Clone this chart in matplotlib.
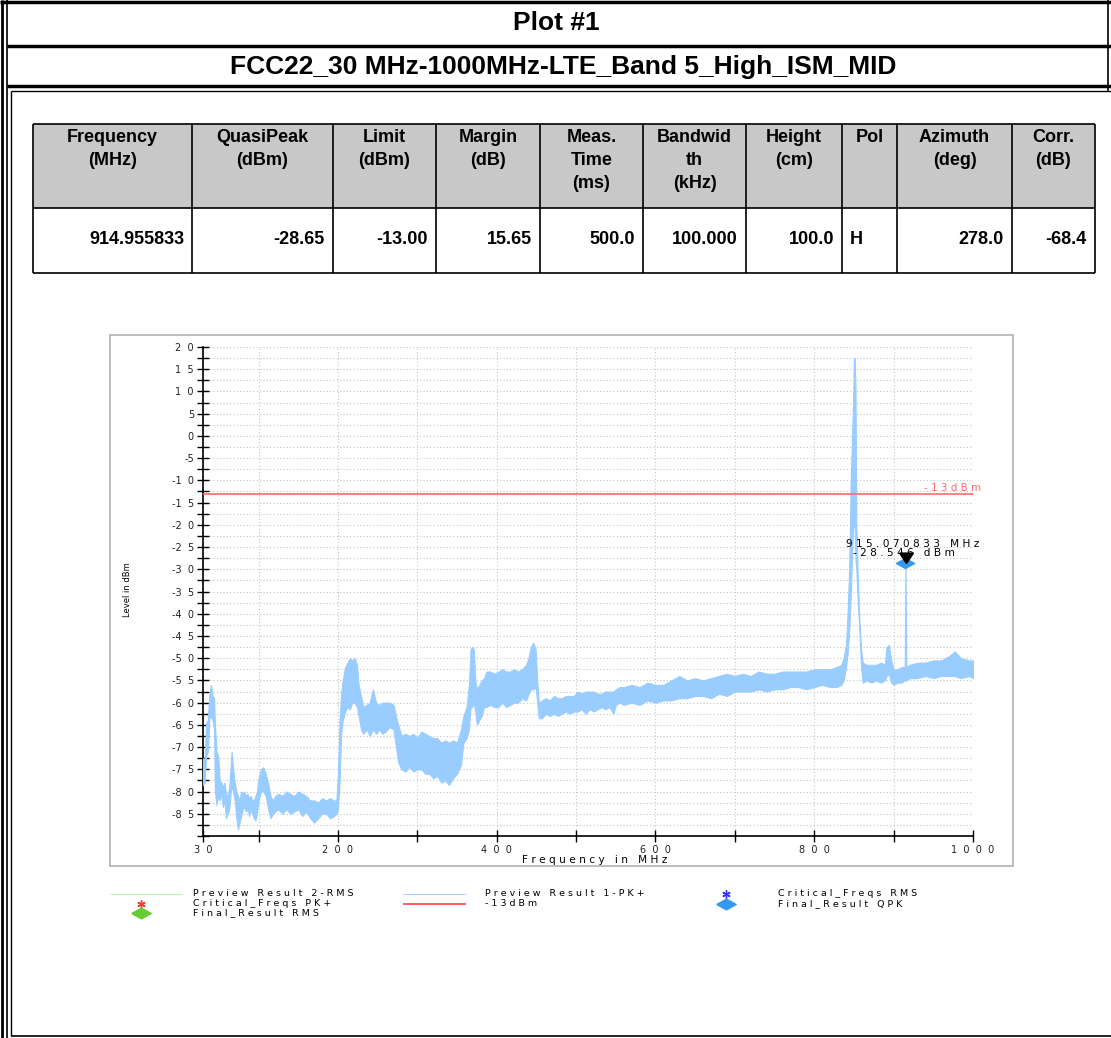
import matplotlib.pyplot as plt
from matplotlib.lines import Line2D
from matplotlib.patches import Rectangle
from matplotlib.ticker import FixedLocator, FuncFormatter, MultipleLocator

# ---- table data ----
headers = ["Frequency\n(MHz)", "QuasiPeak\n(dBm)", "Limit\n(dBm)", "Margin\n(dB)",
           "Meas.\nTime\n(ms)", "Bandwid\nth\n(kHz)", "Height\n(cm)", "Pol",
           "Azimuth\n(deg)", "Corr.\n(dB)"]
values = ["914.955833", "-28.65", "-13.00", "15.65", "500.0", "100.000",
          "100.0", "H", "278.0", "-68.4"]

# ---- trace (low / high edge of the noisy band) ----
freq = [30, 32, 34, 36, 38, 40, 42, 44, 45, 47, 49, 51, 53, 55, 57, 59, 61, 63, 65, 66,
        68, 70, 72, 74, 76, 78, 80, 82, 84, 86, 88, 90, 92, 94, 96, 98, 100, 103, 106, 109,
        112, 115, 118, 121, 125, 130, 135, 140, 145, 150, 155, 160, 165, 170, 175, 180, 185, 190, 195, 198,
        200, 202, 204, 206, 209, 212, 215, 218, 221, 224, 226, 229, 232, 236, 240, 244, 248, 252, 256, 260,
        265, 270, 273, 276, 280, 285, 290, 295, 300, 305, 310, 315, 320, 325, 330, 335, 340, 345, 350, 355,
        358, 362, 365, 367, 369, 371, 373, 375, 378, 381, 384, 387, 392, 397, 402, 407, 412, 417, 422, 427,
        432, 437, 440, 443, 446, 449, 451, 453, 457, 462, 467, 472, 477, 482, 487, 492, 497, 502, 507, 512,
        517, 522, 527, 532, 537, 542, 547, 550, 555, 560, 570, 580, 590, 600, 610, 620, 630, 640, 650, 660,
        670, 680, 690, 700, 710, 720, 730, 740, 750, 760, 770, 780, 790, 800, 810, 820, 828, 834, 837, 840,
        842, 844, 846, 848, 849, 850, 851, 852, 853, 855, 857, 859, 861, 866, 872, 878, 884, 889, 891, 894,
        897, 900, 905, 910, 914, 915, 916, 920, 930, 940, 950, 960, 970, 977, 985, 995, 1000]
level_lo = [-78.5, -78, -72, -71, -63.5, -63, -64, -66, -80, -83, -81, -82, -80.5, -83.5, -82, -86, -85, -84, -80, -79,
            -80, -82, -86, -88.5, -87, -85.5, -84, -83.5, -84.5, -84, -85.5, -84, -85, -86, -86.5, -85, -82, -80, -80, -81,
            -84, -86, -85, -84.5, -84, -85, -84, -85, -84.5, -84, -85.5, -84.5, -86, -87, -86, -85, -85, -86, -85.5, -85,
            -84, -78, -67, -64, -62, -61, -61.5, -60, -60, -61, -63, -66, -67, -66, -67.5, -66, -67, -66, -67, -66.5,
            -65.5, -66, -70, -73.5, -75, -75.5, -74.5, -75.5, -75, -75, -76, -76, -77, -76.5, -78, -77.5, -78.5, -77, -76, -74,
            -69, -68, -66, -61, -61, -60, -62, -65, -64, -63, -61, -61, -60.5, -61, -61, -60, -61, -60.5, -60, -60,
            -59, -59.5, -58, -57, -57, -56.5, -60, -63.5, -63.5, -62.5, -63, -62.5, -63, -62.5, -62, -62.5, -62, -62, -61.5, -62.5,
            -61.5, -62, -61.5, -61, -61.5, -61, -62.5, -60.5, -60, -60.5, -60, -60.5, -59.5, -60, -59.5, -59.5, -59, -59, -58.5, -58.5,
            -59, -58, -58.5, -57.5, -57.5, -57.5, -57, -57.5, -57, -57, -56.5, -56.5, -57, -56.5, -56, -56.5, -56.5, -56, -55, -52,
            -49, -44, -36, -25, -20, -20, -21, -28, -30, -38, -44, -52, -55.5, -55, -55.5, -55, -55.5, -55, -54, -53.5,
            -55.5, -56, -55.5, -55.5, -55, -55, -55, -54.5, -54.5, -54, -54.5, -54, -54, -54, -54.5, -54, -54.5]
level_hi = [-72.5, -73, -64.5, -64, -58, -56, -58.5, -59, -65, -71, -72, -77.5, -78, -79, -78, -80.5, -81, -79, -74, -71,
            -75, -78, -80, -81, -82, -80, -80.5, -80, -81, -80.5, -81.5, -81, -82, -82, -81, -80, -77, -75, -74.5, -76,
            -78, -81, -82, -81, -80.5, -81, -80, -80.5, -81, -80, -80.5, -81, -82, -82, -82.5, -81.5, -82, -81.5, -82, -82,
            -76, -64, -58, -55, -52, -51, -50, -50.5, -50, -51.5, -56, -58.5, -61, -60.5, -60, -57, -60, -60.5, -60, -60,
            -60, -60.5, -63, -65, -67.5, -67, -67.5, -67, -68, -66.5, -67, -67.5, -68, -68, -69, -68.5, -69, -68.5, -69, -66,
            -63, -61, -56, -48, -47.5, -48, -55, -57, -56, -55, -54.5, -53, -53, -53.5, -53, -52.5, -53, -53, -52.5, -53,
            -52.5, -51.5, -50, -47.5, -46.5, -48, -55, -60, -59.5, -59, -59.5, -58.5, -59, -59, -58.5, -58.5, -58.5, -57.5, -58, -57.5,
            -57.5, -57.5, -58, -58, -57.5, -57.5, -57.5, -57, -56.5, -56.5, -56, -56.5, -55.5, -56, -56, -55, -54, -55, -54.5, -55,
            -54.5, -54, -53.5, -54, -53.5, -54, -53, -53.5, -53.5, -53, -53, -53, -53, -52.5, -52.5, -52.5, -52, -51.5, -50, -47,
            -40, -30, -10, 2, 8, 17.5, 17.5, 10, -20, -33, -42, -48, -51, -51.5, -51.5, -51.5, -51, -51.5, -47.5, -47,
            -50.5, -52.5, -52.5, -52, -52, -28.5, -52, -51.5, -51, -51, -50.5, -50.5, -49.5, -48.5, -50, -50.5, -50.5]

limit_freq = [30, 1000]
limit_level = [-13, -13]
qpk_freq = [914.955833]
qpk_level = [-28.65]
mark_freq = 915.070833
mark_level = -28.546

x_major = [30, 200, 400, 600, 800, 1000]
x_minor = [100, 300, 500, 700, 900]
y_major = list(range(-85, 21, 5))

W, H = 1111, 1038
FONT = ['Liberation Sans', 'DejaVu Sans']
TRACE = '#99ccff'

fig = plt.figure(figsize=(W / 100, H / 100), dpi=100)


def fx(x):
    return x / W


def fy(y):
    return 1 - y / H


def line(x0, y0, x1, y1, lw, color='black'):
    fig.add_artist(Line2D([fx(x0), fx(x1)], [fy(y0), fy(y1)], lw=lw, color=color,
                          transform=fig.transFigure, solid_capstyle='butt'))


def spaced(s, gap=" "):
    return gap.join(s)


def tick_text(v, pos):
    s = str(int(round(v)))
    if s.startswith("-"):
        return "-" + spaced(s[1:], "  ")
    return spaced(s, "  ")


# ---- page frame ----
line(2, 0, 2, H, 2)
line(7, 0, 7, H, 1.2)
line(11, 91, 11, 1036, 1)
line(0, 1.5, W, 1.5, 2.5)
line(1108, 0, 1108, 91, 1.2)
line(7, 46, W, 46, 2.5)
line(7, 86, W, 86, 2.5)
line(11, 91, W, 91, 1)
line(11, 1036, W, 1036, 1.2)

fig.text(fx(556), fy(23), "Plot #1", ha='center', va='center', fontsize=19,
         fontweight='bold', family=FONT)
fig.text(fx(563), fy(67), "FCC22_30 MHz-1000MHz-LTE_Band 5_High_ISM_MID", ha='center',
         va='center', fontsize=19, fontweight='bold', family=FONT)

# ---- result table ----
col_edges = [33, 192, 333, 436, 540, 643, 746, 842, 897, 1012, 1095]
t_top, t_mid, t_bot = 124, 208, 273
fig.add_artist(Rectangle((fx(33), fy(t_mid)), fx(1095) - fx(33), fy(t_top) - fy(t_mid),
                         transform=fig.transFigure, facecolor='#c8c8c8', edgecolor='none',
                         zorder=0))
for yy in (t_top, t_mid, t_bot):
    line(33, yy, 1095, yy, 1.2)
for xx in col_edges:
    line(xx, t_top, xx, t_bot, 1.2)
for i in range(len(headers)):
    x0, x1 = col_edges[i], col_edges[i + 1]
    fig.text(fx((x0 + x1) / 2), fy(129), headers[i], ha='center', va='top', fontsize=13,
             fontweight='bold', family=FONT, linespacing=1.45)
    if values[i] == "H":
        fig.text(fx(x0 + 8), fy(240), values[i], ha='left', va='center', fontsize=13,
                 fontweight='bold', family=FONT)
    else:
        fig.text(fx(x1 - 8), fy(240), values[i], ha='right', va='center', fontsize=13,
                 fontweight='bold', family=FONT)

# ---- chart frame ----
fig.add_artist(Rectangle((fx(110), fy(866)), fx(1013) - fx(110), fy(335) - fy(866),
                         transform=fig.transFigure, facecolor='white', edgecolor='#b0b0b0',
                         lw=1.2, zorder=-1))

ax = fig.add_axes([fx(203), fy(836), fx(973) - fx(203), fy(347) - fy(836)])
ax.set_zorder(2)
ax.patch.set_alpha(0)
ax.set_xlim(30, 1000)
ax.set_ylim(-90, 20)

ax.fill_between(freq, level_lo, level_hi, color=TRACE, lw=0.8, edgecolor=TRACE, zorder=3)
ax.plot(limit_freq, limit_level, color='#ff6b6b', lw=1.2, zorder=4)
ax.annotate(spaced("-13") + " " + spaced("dBm"), xy=(1000, -13), xytext=(8, 1),
            textcoords='offset pixels', color='#ff6b6b', ha='right', va='bottom', fontsize=7.5)

diamond = [(-1, 0), (0, 0.55), (1, 0), (0, -0.55), (-1, 0)]
ax.plot(qpk_freq, qpk_level, ls='none', marker=diamond, ms=13, color='#3399ee', zorder=5)
tri = [(-1, 1.5), (1, 1.5), (0, 0), (-1, 1.5)]
ax.plot([mark_freq], [mark_level], ls='none', marker=tri, ms=15, color='black', zorder=6)
ax.annotate(spaced("915.070833") + "   " + spaced("MHz"), xy=(mark_freq, mark_level),
            xytext=(7, 19), textcoords='offset pixels', ha='center', va='center', fontsize=7.6)
ax.annotate(spaced("-28.546") + "   " + spaced("dBm"), xy=(mark_freq, mark_level),
            xytext=(-2, 10), textcoords='offset pixels', ha='center', va='center', fontsize=7.6)

ax.xaxis.set_major_locator(FixedLocator(x_major))
ax.xaxis.set_minor_locator(FixedLocator(x_minor))
ax.yaxis.set_major_locator(FixedLocator(y_major))
ax.yaxis.set_minor_locator(MultipleLocator(2.5))
fmt = FuncFormatter(tick_text)
ax.xaxis.set_major_formatter(fmt)
ax.yaxis.set_major_formatter(fmt)
ax.grid(which='both', color='#c4c4c4', lw=0.8, ls=(0, (1, 2)))
ax.set_axisbelow(True)
ax.tick_params(which='both', direction='inout', length=9, width=1, colors='black',
               labelsize=7, labelcolor='#222222', pad=2)
for s in ('top', 'right'):
    ax.spines[s].set_visible(False)
for s in ('left', 'bottom'):
    ax.spines[s].set_linewidth(1.2)

fig.text(fx(127), fy(590), "Level in dBm", rotation=90, ha='center', va='center', fontsize=6)
fig.text(fx(595), fy(860), spaced("Frequency") + "   " + spaced("in") + "   " + spaced("MHz"),
         ha='center', va='center', fontsize=7.6)

# ---- legend ----
r1, r2, r3 = 894, 903.5, 913
line(110, r1, 182, r1, 0.8, '#b8f0b0')
fig.add_artist(Line2D([fx(141)], [fy(r2)], marker=(6, 2, 0), ms=6, color='#ff3333',
                      transform=fig.transFigure))
fig.add_artist(Line2D([fx(141)], [fy(r3)], marker=diamond, ms=14, color='#66cc33',
                      transform=fig.transFigure, ls='none'))
line(403, r1, 466, r1, 0.8, '#a8d4ff')
line(403, r2, 466, r2, 1.2, '#ff4444')
fig.add_artist(Line2D([fx(726)], [fy(r1)], marker=(6, 2, 0), ms=6, color='#3333ff',
                      transform=fig.transFigure))
fig.add_artist(Line2D([fx(726)], [fy(r2)], marker=diamond, ms=14, color='#3399ee',
                      transform=fig.transFigure, ls='none'))

legend_items = [(193, r1, "Preview Result 2-RMS"), (193, r2, "Critical_Freqs PK+"),
                (193, r3, "Final_Result RMS"), (485, r1, "Preview Result 1-PK+"),
                (485, r2, "-13dBm"), (778, r1, "Critical_Freqs RMS"),
                (778, r2, "Final_Result QPK")]
for x, y, s in legend_items:
    txt = "   ".join(spaced(w) for w in s.split(" "))
    fig.text(fx(x), fy(y), txt, ha='left', va='center', fontsize=6.8)

fig.savefig("out.png", dpi=100)
